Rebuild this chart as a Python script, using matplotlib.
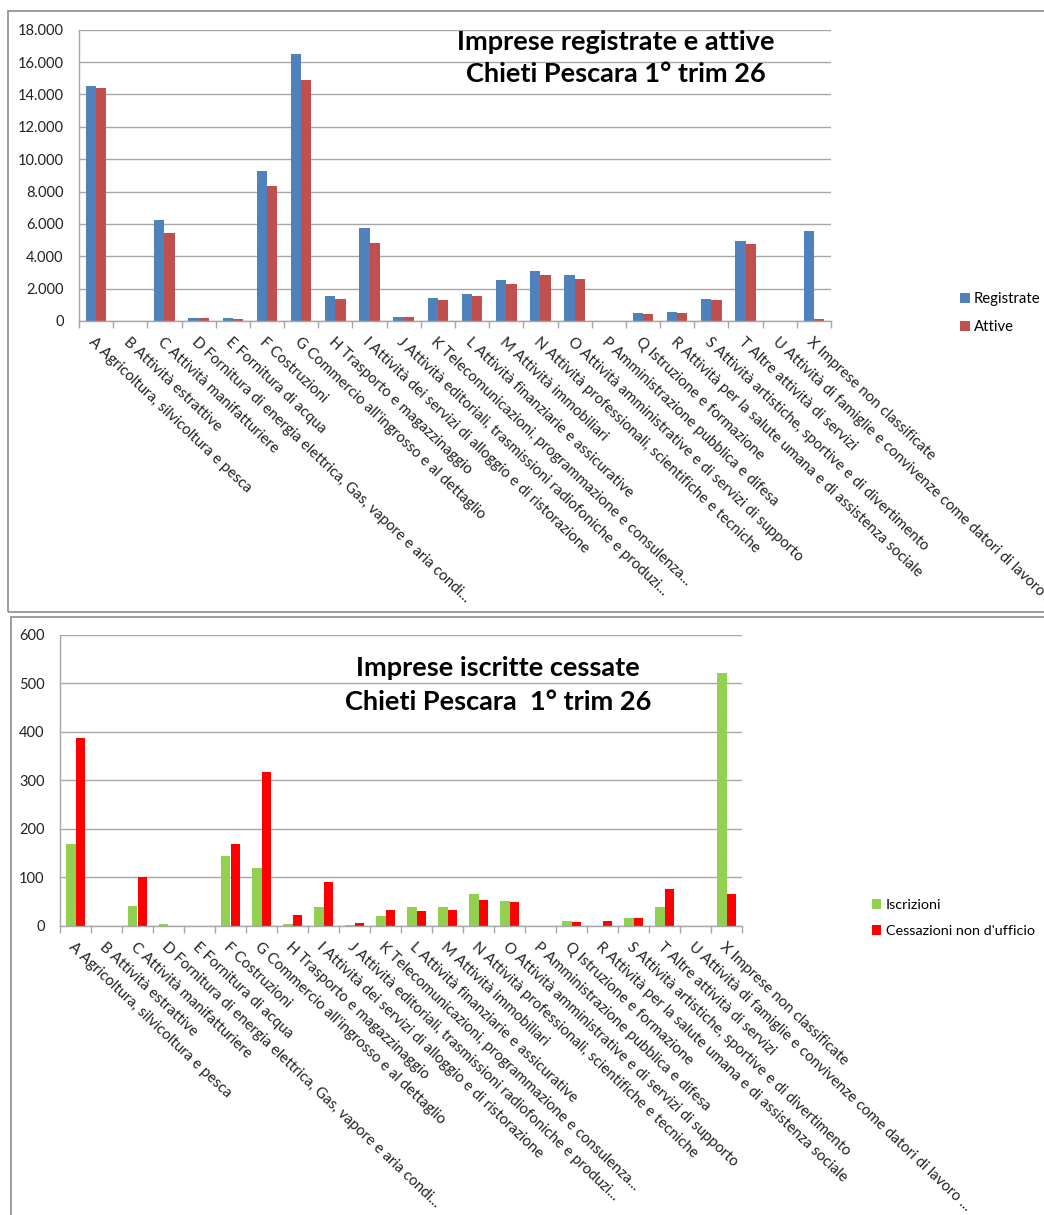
import matplotlib
matplotlib.use("Agg")
import matplotlib.pyplot as plt
from matplotlib.patches import Rectangle
from matplotlib.ticker import FuncFormatter, FixedLocator

plt.rcParams['font.family'] = ['Lato', 'DejaVu Sans']

categories = [
    "A Agricoltura, silvicoltura e pesca",
    "B Attività estrattive",
    "C Attività manifatturiere",
    "D Fornitura di energia elettrica, Gas, vapore e aria condi...",
    "E Fornitura di acqua",
    "F Costruzioni",
    "G Commercio all'ingrosso e al dettaglio",
    "H Trasporto e magazzinaggio",
    "I Attività dei servizi di alloggio e di ristorazione",
    "J Attività editoriali, trasmissioni radiofoniche e produzi...",
    "K Telecomunicazioni, programmazione e consulenza...",
    "L Attività finanziarie e assicurative",
    "M Attività immobiliari",
    "N Attività professionali, scientifiche e tecniche",
    "O Attività amministrative e di servizi di supporto",
    "P Amministrazione pubblica e difesa",
    "Q Istruzione e formazione",
    "R Attività per la salute umana e di assistenza sociale",
    "S Attività artistiche, sportive e di divertimento",
    "T Altre attività di servizi",
    "U Attività di famiglie e convivenze come datori di lavoro ...",
    "X Imprese non classificate",
]

registrate = [14500, 0, 6230, 190, 180, 9250, 16500, 1520, 5720, 230, 1440,
              1670, 2530, 3080, 2840, 0, 470, 560, 1360, 4950, 0, 5550]
attive = [14400, 0, 5430, 180, 120, 8350, 14870, 1370, 4810, 220, 1290,
          1560, 2280, 2820, 2610, 0, 430, 510, 1270, 4730, 0, 120]

iscrizioni = [168, 0, 41, 3, 0, 144, 118, 4, 39, 2, 19,
              39, 39, 65, 50, 0, 9, 0, 15, 39, 0, 521]
cessazioni = [387, 0, 100, 0, 0, 168, 317, 22, 90, 6, 32,
              31, 33, 52, 48, 0, 7, 9, 15, 76, 0, 65]

top_title = "Imprese registrate e attive\nChieti Pescara 1° trim 26"
bottom_title = "Imprese iscritte cessate\nChieti Pescara  1° trim 26"

W, H = 1044, 1215
fig = plt.figure(figsize=(W / 100, H / 100), dpi=100)


def fx(x):
    return x / W


def fy(y):
    return 1 - y / H


def make_ax(left, right, top, bottom):
    return fig.add_axes([fx(left), fy(bottom), fx(right) - fx(left), fy(top) - fy(bottom)])


GRID = '#a6a6a6'
TXT = '#222222'


def style(ax, ymax, ystep, fmt):
    n = len(categories)
    ax.set_xlim(-0.5, n - 0.5)
    ax.set_ylim(0, ymax)
    ax.set_yticks(range(0, ymax + 1, ystep))
    ax.yaxis.set_major_formatter(FuncFormatter(fmt))
    ax.grid(axis='y', color=GRID, linewidth=1.0)
    ax.set_axisbelow(True)
    for s in ['top', 'right']:
        ax.spines[s].set_visible(False)
    for s in ['left', 'bottom']:
        ax.spines[s].set_color(GRID)
        ax.spines[s].set_linewidth(1.0)
    ax.tick_params(axis='y', length=0, pad=11, labelsize=10.5, labelcolor=TXT)
    ax.set_xticks(range(n))
    ax.set_xticklabels(categories, rotation=-43.5, ha='left', va='top',
                       rotation_mode='anchor', fontsize=10.8, color=TXT)
    ax.tick_params(axis='x', which='major', length=0, pad=10)
    ax.xaxis.set_minor_locator(FixedLocator([i - 0.5 for i in range(n + 1)]))
    ax.tick_params(axis='x', which='minor', length=5, color=GRID, width=1)


x = list(range(len(categories)))
bw = 0.3

# Top chart
ax1 = make_ax(79, 831, 29.7, 321)
ax1.bar([i - bw / 2 for i in x], registrate, width=bw, color='#4F81BD', label='Registrate')
ax1.bar([i + bw / 2 for i in x], attive, width=bw, color='#C0504D', label='Attive')
style(ax1, 18000, 2000, lambda v, p: f"{int(v):,}".replace(',', '.'))
fig.text(fx(616), fy(58), top_title, ha='center', va='center', fontsize=19.5,
         fontweight='bold', linespacing=1.45, color='black')
ax1.legend(loc='center left', bbox_to_anchor=(fx(960), fy(313)),
           bbox_transform=fig.transFigure, frameon=False, fontsize=10.7,
           handlelength=0.65, handleheight=0.65, handletextpad=0.3,
           labelspacing=0.95, borderaxespad=0, borderpad=0)

# Bottom chart
ax2 = make_ax(60, 742, 634.7, 925.7)
ax2.bar([i - bw / 2 for i in x], iscrizioni, width=bw, color='#92D050', label='Iscrizioni')
ax2.bar([i + bw / 2 for i in x], cessazioni, width=bw, color='#FF0000',
        label="Cessazioni non d'ufficio")
style(ax2, 600, 100, lambda v, p: f"{int(v)}")
fig.text(fx(498), fy(685), bottom_title, ha='center', va='center', fontsize=19.5,
         fontweight='bold', linespacing=1.45, color='black')
ax2.legend(loc='center left', bbox_to_anchor=(fx(872), fy(918)),
           bbox_transform=fig.transFigure, frameon=False, fontsize=10.4,
           handlelength=0.65, handleheight=0.65, handletextpad=0.3,
           labelspacing=1.0, borderaxespad=0, borderpad=0)

# Chart frames
fig.add_artist(Rectangle((fx(8), fy(612)), 1.2, fy(11) - fy(612),
                         transform=fig.transFigure, fill=False,
                         edgecolor='#8c8c8c', linewidth=1.2))
fig.add_artist(Rectangle((fx(11), fy(1300)), 1.2, fy(617) - fy(1300),
                         transform=fig.transFigure, fill=False,
                         edgecolor='#8c8c8c', linewidth=1.2))

fig.savefig('out.png', dpi=100)
